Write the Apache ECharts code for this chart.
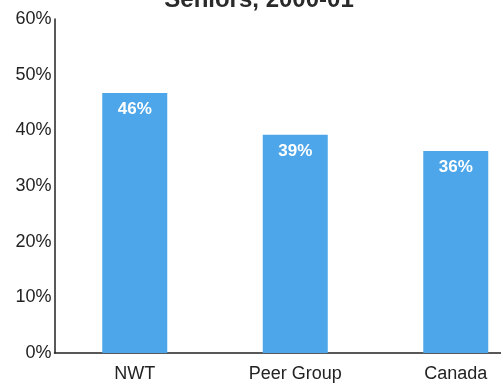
<!DOCTYPE html>
<html>
<head>
<meta charset="utf-8">
<script src="https://cdn.jsdelivr.net/npm/echarts@6/dist/echarts.min.js"></script>
<style>html,body{margin:0;padding:0;background:#fff;}#c{width:501px;height:383px;}</style>
</head>
<body>
<div id="c"></div>
<script>
const titleText = "Seniors, 2000-01";
const categories = ["NWT", "Peer Group", "Canada"];
const values = [46.7, 39.2, 36.3];
const valueLabels = ["46%", "39%", "36%"];
const yTicks = [0, 10, 20, 30, 40, 50, 60];

const chart = echarts.init(document.getElementById('c'), null, {renderer: 'canvas'});
chart.setOption({
  animation: false,
  backgroundColor: '#ffffff',
  title: {
    text: titleText,
    left: 254, top: -17,
    textAlign: 'center',
    textStyle: {fontFamily: 'Liberation Sans, Arial', fontWeight: 'bold', fontSize: 24, color: '#2a2a2a'}
  },
  grid: {left: 54.5, top: 19, right: -35, bottom: 30, outerBoundsMode: 'none', containLabel: false},
  xAxis: {
    type: 'category',
    data: categories,
    axisLine: {lineStyle: {color: '#222', width: 1.5}},
    axisTick: {show: false},
    axisLabel: {margin: 12, fontFamily: 'Liberation Sans, Arial', fontSize: 18, color: '#222'}
  },
  yAxis: {
    type: 'value',
    min: yTicks[0], max: yTicks[yTicks.length - 1], interval: 10,
    splitLine: {show: false},
    axisTick: {show: false},
    axisLine: {show: true, lineStyle: {color: '#222', width: 1.5}},
    axisLabel: {margin: 3, fontFamily: 'Liberation Sans, Arial', fontSize: 18, color: '#222',
      padding: [6, 0, 0, 0],
      formatter: v => v + '%'}
  },
  series: [{
    type: 'bar',
    data: values,
    barWidth: 65,
    itemStyle: {color: '#4ca6e9'},
    label: {
      show: true, position: 'insideTop', distance: 8,
      fontFamily: 'Liberation Sans, Arial', fontWeight: 'bold', fontSize: 17, color: '#ffffff',
      formatter: p => valueLabels[p.dataIndex]
    }
  }]
});
</script>
</body>
</html>
